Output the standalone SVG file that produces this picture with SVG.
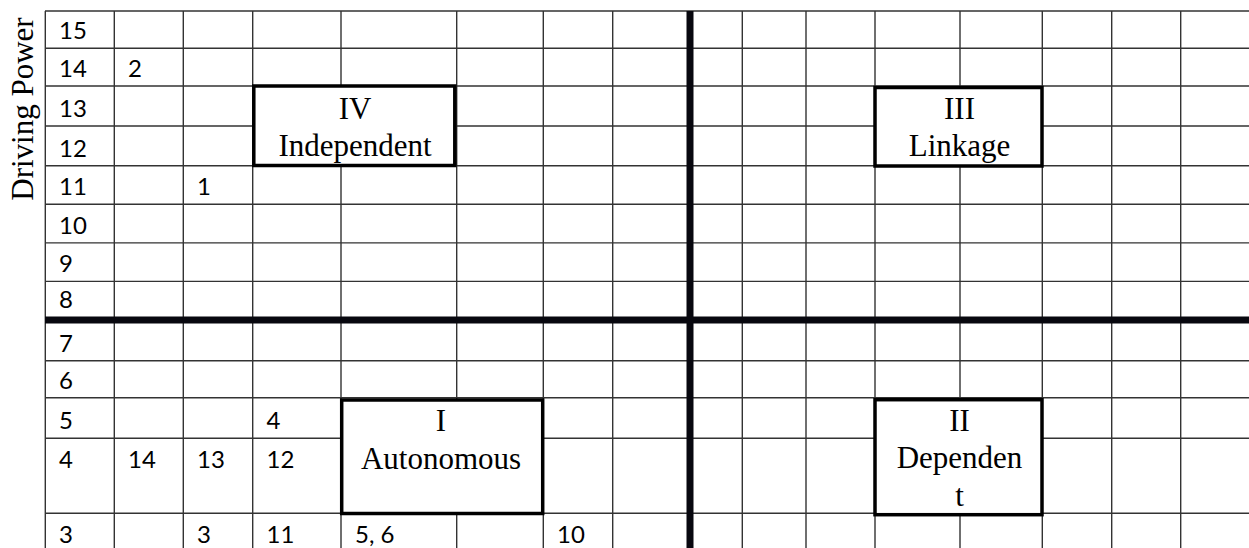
<svg xmlns="http://www.w3.org/2000/svg" width="1249" height="548" viewBox="0 0 1249 548">
<style>
.g{stroke:#333;stroke-width:1.4;fill:none}
.t{stroke:#08080f;stroke-width:7;fill:none}
.box{fill:#fff;stroke:#000;stroke-width:3.5}
.n{font-family:Lato,"Open Sans",sans-serif;font-size:24px;fill:#000}
.s{font-family:"Liberation Serif","Times New Roman",serif;font-size:31px;fill:#000;text-anchor:middle}
</style>
<rect width="1249" height="548" fill="#fff"/>
<g id="grid">
<path class="g" d="M45,11H1249M45,48.3H1249M45,86H1249M45,126H1249M45,165.7H1249M45,204.3H1249M45,242.9H1249M45,281.4H1249M45,360.7H1249M45,397.7H1249M45,438.3H1249M45,513.3H1249"/>
<path class="g" d="M45.3,11V548M114.3,11V548M183.3,11V548M252.7,11V548M341,11V548M456.7,11V548M543.3,11V548M612.7,11V548M742.3,11V548M806,11V548M875,11V548M960,11V548M1042.3,11V548M1111.7,11V548M1180.7,11V548"/>
</g>
<g id="axes">
<path class="t" d="M45,320H1249"/>
<path class="t" d="M690,11V548"/>
</g>
<text class="s" transform="translate(33,109) rotate(-90)">Driving Power</text>
<g id="cells" class="n">
<text x="59" y="39.3">15</text>
<text x="59" y="77">14</text>
<text x="128" y="77">2</text>
<text x="59" y="117">13</text>
<text x="59" y="156.7">12</text>
<text x="59" y="195.3">11</text>
<text x="197" y="195.3">1</text>
<text x="59" y="233.9">10</text>
<text x="59" y="272.4">9</text>
<text x="59" y="307.5">8</text>
<text x="59" y="352">7</text>
<text x="59" y="389">6</text>
<text x="59" y="429.3">5</text>
<text x="266.5" y="429.3">4</text>
<text x="59" y="468.3">4</text>
<text x="128" y="468.3">14</text>
<text x="197" y="468.3">13</text>
<text x="266.5" y="468.3">12</text>
<text x="59" y="543.3">3</text>
<text x="197" y="543.3">3</text>
<text x="266.5" y="543.3">11</text>
<text x="355" y="543.3">5, 6</text>
<text x="557" y="543.3">10</text>
</g>
<g id="box-IV">
<rect class="box" x="253.8" y="86" width="201" height="79.5"/>
<text class="s" x="355" y="119">IV</text>
<text class="s" x="355" y="155.7">Independent</text>
</g>
<g id="box-III">
<rect class="box" x="875" y="87.5" width="167" height="78.5"/>
<text class="s" x="959.5" y="119.3">III</text>
<text class="s" x="959.5" y="156">Linkage</text>
</g>
<g id="box-I">
<rect class="box" x="341.7" y="400" width="201" height="113.5"/>
<text class="s" x="441" y="431">I</text>
<text class="s" x="441" y="469">Autonomous</text>
</g>
<g id="box-II">
<rect class="box" x="875" y="399.7" width="167" height="115"/>
<text class="s" x="959.5" y="430.7">II</text>
<text class="s" x="959.5" y="468.3">Dependen</text>
<text class="s" x="959.5" y="505.7">t</text>
</g>
</svg>
